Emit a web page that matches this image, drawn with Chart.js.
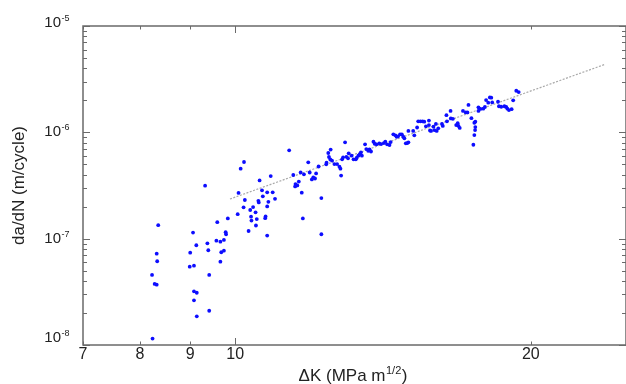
<!DOCTYPE html>
<html><head><meta charset="utf-8">
<script src="https://cdn.jsdelivr.net/npm/chart.js@4.4.1/dist/chart.umd.min.js"></script>
<style>
html,body{margin:0;padding:0;background:#fff;overflow:hidden;width:626px;height:384px}
#wrap{position:absolute;left:0;top:0;width:630px;height:384px}
</style>
</head><body>
<div id="wrap"><canvas id="c" width="630" height="384"></canvas></div>
<script>
// ---- data ----
const deltaK = [
 8.24, 8.23, 8.28, 8.32, 8.32, 8.33, 8.35,
 9.00, 9.06, 9.13, 8.99, 9.08, 9.08, 9.14, 9.08, 9.14,
 9.32, 9.37, 9.39, 9.41, 9.41,
 9.57, 9.59, 9.66, 9.74, 9.66, 9.68, 9.74, 9.78, 9.79, 9.83,
 10.06, 10.08, 10.13, 10.21, 10.20, 10.23, 10.32, 10.36, 10.38, 10.39,
 10.43, 10.49, 10.50, 10.52, 10.56, 10.57, 10.59, 10.65, 10.67, 10.74,
 10.73, 10.78, 10.78, 10.81, 10.78, 10.87, 10.92, 10.98,
 11.35, 11.46, 11.52, 11.51, 11.57, 11.61, 11.66, 11.75, 11.69, 11.72,
 11.87, 11.91, 11.97, 12.01, 12.06, 12.09, 12.16, 12.24, 12.24,
 12.39, 12.38, 12.46, 12.44, 12.51, 12.50, 12.55, 12.62, 12.70, 12.77,
 12.80, 12.82, 12.85, 12.94, 12.88, 12.98,
 13.05, 13.03, 13.14, 13.20, 13.27, 13.30, 13.35, 13.39, 13.43, 13.46,
 13.56, 13.60, 13.66, 13.70, 13.75, 13.83, 13.87, 13.93,
 14.02, 14.08, 14.17, 14.22, 14.28, 14.36, 14.40, 14.49, 14.56, 14.60,
 14.65, 14.72, 14.78, 14.83, 14.87, 14.92, 14.97,
 15.01, 15.01, 15.18, 15.22, 15.32, 15.36, 15.44, 15.52, 15.58, 15.75,
 15.64, 15.75, 15.79, 15.83, 15.92, 15.95,
 16.01, 16.04, 16.10, 16.24, 16.27, 16.43, 16.41, 16.57, 16.58, 16.66,
 16.79, 16.88, 16.93, 16.85,
 17.06, 17.17, 17.24, 17.28, 17.40, 17.52, 17.56, 17.55, 17.52, 17.48,
 17.56, 17.69, 17.69, 17.77, 17.89, 17.96,
 18.01, 18.17, 18.23, 18.27, 18.10, 18.52, 18.56, 18.66, 18.80, 18.88,
 18.93, 19.00, 19.12, 19.19, 19.33, 19.44
];
const dadN = [
 1.15e-8, 4.56e-8, 3.75e-8, 3.69e-8, 7.22e-8, 6.13e-8, 1.34e-7,
 7.38e-8, 1.14e-7, 8.67e-8, 5.45e-8, 5.57e-8, 3.20e-8, 3.10e-8, 2.63e-8, 1.86e-8,
 3.15e-7, 9.05e-8, 7.78e-8, 4.56e-8, 2.10e-8,
 9.58e-8, 1.43e-7, 9.37e-8, 9.73e-8, 6.08e-8, 7.45e-8, 7.71e-8, 1.15e-7, 1.10e-7, 1.55e-7,
 1.70e-7, 2.69e-7, 4.55e-7, 5.26e-7, 1.97e-7, 2.31e-7, 1.18e-7, 1.86e-7, 1.61e-7, 1.48e-7,
 1.98e-7, 1.77e-7, 1.33e-7, 1.53e-7, 2.27e-7, 2.19e-7, 3.53e-7, 2.85e-7, 2.50e-7, 1.62e-7,
 1.56e-7, 2.73e-7, 2.01e-7, 2.22e-7, 1.07e-7, 3.88e-7, 2.73e-7, 2.37e-7,
 6.77e-7, 3.97e-7, 3.26e-7, 3.10e-7, 3.17e-7, 3.44e-7, 4.19e-7, 4.03e-7, 2.71e-7, 1.55e-7,
 5.22e-7, 4.19e-7, 3.61e-7, 3.76e-7, 3.68e-7, 4.11e-7, 4.77e-7, 2.41e-7, 1.10e-7,
 5.18e-7, 5.00e-7, 5.86e-7, 6.39e-7, 6.89e-7, 5.55e-7, 5.43e-7, 5.03e-7, 5.03e-7, 4.75e-7,
 4.55e-7, 3.92e-7, 5.57e-7, 8.05e-7, 5.82e-7, 5.89e-7,
 6.35e-7, 5.69e-7, 6.03e-7, 5.57e-7, 5.57e-7, 5.77e-7, 6.03e-7, 6.21e-7, 6.49e-7, 6.03e-7,
 7.71e-7, 6.96e-7, 6.71e-7, 6.92e-7, 6.60e-7, 8.16e-7, 7.81e-7, 7.71e-7,
 7.88e-7, 7.76e-7, 7.93e-7, 8.16e-7, 7.71e-7, 7.60e-7, 8.10e-7, 9.57e-7, 9.37e-7, 9.09e-7,
 9.17e-7, 9.58e-7, 9.58e-7, 9.09e-7, 8.79e-7, 7.88e-7, 7.93e-7,
 8.05e-7, 1.03e-6, 1.03e-6, 9.37e-7, 1.11e-6, 1.27e-6, 1.27e-6, 1.27e-6, 1.26e-6, 1.29e-6,
 1.14e-6, 1.17e-6, 1.04e-6, 1.03e-6, 1.13e-6, 1.05e-6,
 1.20e-6, 1.03e-6, 1.09e-6, 1.20e-6, 1.15e-6, 1.27e-6, 1.45e-6, 1.59e-6, 1.35e-6, 1.34e-6,
 1.17e-6, 1.15e-6, 1.10e-6, 1.22e-6,
 1.59e-6, 1.54e-6, 1.54e-6, 1.81e-6, 1.36e-6, 1.23e-6, 1.12e-6, 1.05e-6, 9.43e-7, 7.64e-7,
 1.26e-6, 1.72e-6, 1.59e-6, 1.66e-6, 1.67e-6, 1.73e-6,
 2.01e-6, 2.13e-6, 2.12e-6, 1.91e-6, 1.90e-6, 1.94e-6, 1.76e-6, 1.74e-6, 1.76e-6, 1.73e-6,
 1.67e-6, 1.62e-6, 1.65e-6, 2.00e-6, 2.46e-6, 2.39e-6
];
const fitK = [9.88, 23.8];
const fitRate = [2.36e-7, 4.36e-6];
const xTickValues = [7, 8, 9, 10, 20];
const yTickValues = [1e-8, 1e-7, 1e-6, 1e-5];
const yTickExponents = ['-8', '-7', '-6', '-5'];
const xLimits = [7, 25];
const yLimits = [1e-8, 1e-5];

// ---- styling ----
const FONT = "'Liberation Sans', Arial, Helvetica, sans-serif";
const TEXT = '#222';
const FRAME = '#6a6a6a';
const yLabelShift = [-7, 0, 0, -3.5];

function isPow10(v){ const l = Math.log10(v); return Math.abs(l - Math.round(l)) < 1e-9; }

const framePlugin = {
  id: 'frame',
  beforeDatasetsDraw(chart){
    const {ctx, chartArea: a, scales: {x, y}} = chart;
    ctx.save();
    ctx.strokeStyle = FRAME;
    ctx.lineWidth = 1.5;
    ctx.strokeRect(a.left, a.top, a.right - a.left, a.bottom - a.top);
    ctx.lineWidth = 1;
    ctx.beginPath();
    xTickValues.forEach(v => {
      const px = Math.round(x.getPixelForValue(v)) + 0.5;
      const L = isPow10(v) ? 7 : 3.5;
      ctx.moveTo(px, a.bottom); ctx.lineTo(px, a.bottom - L);
      ctx.moveTo(px, a.top); ctx.lineTo(px, a.top + L);
    });
    const yTick = (v, L) => {
      const py = Math.round(y.getPixelForValue(v)) + 0.5;
      ctx.moveTo(a.left, py); ctx.lineTo(a.left + L, py);
      ctx.moveTo(a.right, py); ctx.lineTo(a.right - L, py);
    };
    yTickValues.forEach((v, i) => {
      yTick(v, 7);
      if (i < yTickValues.length - 1) {
        for (let m = 2; m <= 9; m++) yTick(v * m, 4);
      }
    });
    ctx.stroke();
    ctx.restore();
  },
  afterDraw(chart){
    const {ctx, chartArea: a, scales: {y}} = chart;
    ctx.save();
    ctx.fillStyle = TEXT;
    // y tick labels 10^n
    yTickValues.forEach((v, i) => {
      const c = y.getPixelForValue(v) + yLabelShift[i];
      ctx.font = "15px " + FONT;
      ctx.textAlign = 'right';
      ctx.textBaseline = 'middle';
      ctx.fillText('10', 61, c);
      ctx.font = "9px " + FONT;
      ctx.textAlign = 'left';
      ctx.textBaseline = 'alphabetic';
      ctx.fillText(yTickExponents[i], 61.5, c - 2);
    });
    // x axis title with superscript
    const main = '\u0394K (MPa m', sup = '1/2', end = ')';
    ctx.font = "17px " + FONT;
    const w1 = ctx.measureText(main).width, w3 = ctx.measureText(end).width;
    ctx.font = "11px " + FONT;
    const w2 = ctx.measureText(sup).width;
    const total = w1 + w2 + w3 + 1;
    let sx = 353 - total / 2;
    const base = 381;
    ctx.textAlign = 'left';
    ctx.textBaseline = 'alphabetic';
    ctx.font = "17px " + FONT;
    ctx.fillText(main, sx, base);
    ctx.font = "11px " + FONT;
    ctx.fillText(sup, sx + w1 + 0.5, base - 7);
    ctx.font = "17px " + FONT;
    ctx.fillText(end, sx + w1 + w2 + 1, base);
    ctx.restore();
  }
};

new Chart(document.getElementById('c'), {
  type: 'scatter',
  data: {
    datasets: [
      {
        type: 'scatter',
        data: deltaK.map((k, i) => ({x: k, y: dadN[i]})),
        pointRadius: 1.9,
        pointBackgroundColor: '#0d0dff',
        pointBorderWidth: 0,
        order: 1
      },
      {
        type: 'line',
        data: fitK.map((k, i) => ({x: k, y: fitRate[i]})),
        borderColor: '#a9a9a9',
        borderWidth: 1.2,
        borderDash: [2, 1.5],
        pointRadius: 0,
        fill: false,
        tension: 0,
        order: 2
      }
    ]
  },
  options: {
    responsive: false,
    animation: false,
    devicePixelRatio: 1,
    layout: {padding: {left: 0, right: 2.5, top: 26, bottom: 0}},
    plugins: {legend: {display: false}, tooltip: {enabled: false}},
    scales: {
      x: {
        type: 'logarithmic',
        min: xLimits[0], max: xLimits[1],
        afterBuildTicks: s => { s.ticks = xTickValues.map(v => ({value: v})); },
        afterFit: s => { s.height = 39; },
        ticks: {
          callback: v => String(v),
          font: {family: FONT, size: 16},
          color: TEXT,
          padding: 0,
          maxRotation: 0,
          autoSkip: false
        },
        grid: {display: false, drawTicks: false},
        border: {display: false}
      },
      y: {
        type: 'logarithmic',
        min: yLimits[0], max: yLimits[1],
        afterFit: s => { s.width = 83; },
        ticks: {display: false},
        grid: {display: false, drawTicks: false},
        border: {display: false},
        title: {
          display: true,
          text: 'da/dN (m/cycle)',
          font: {family: FONT, size: 17},
          color: TEXT,
          padding: {top: 8.8, bottom: 0}
        }
      }
    }
  },
  plugins: [framePlugin]
});
</script>
</body></html>
